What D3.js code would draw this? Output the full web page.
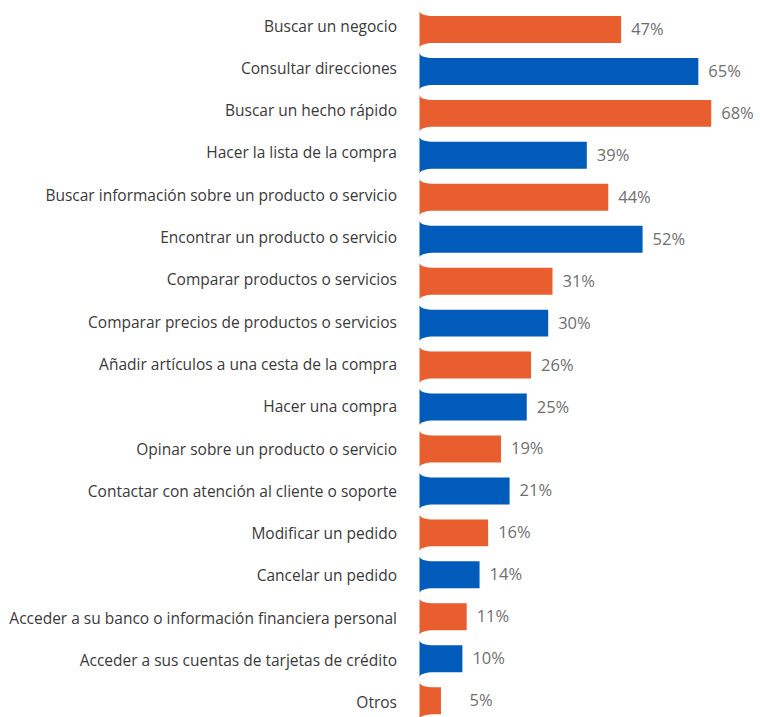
<!DOCTYPE html>
<html>
<head>
<meta charset="utf-8">
<script src="https://cdn.jsdelivr.net/npm/d3@7"></script>
<style>
  html, body { margin: 0; padding: 0; background: #ffffff; }
  svg { display: block; }
</style>
</head>
<body>
<svg id="chart" width="760" height="717"></svg>
<script>
// Activities and the share of respondents for each one (%)
const categories = [
  "Buscar un negocio",
  "Consultar direcciones",
  "Buscar un hecho rápido",
  "Hacer la lista de la compra",
  "Buscar información sobre un producto o servicio",
  "Encontrar un producto o servicio",
  "Comparar productos o servicios",
  "Comparar precios de productos o servicios",
  "Añadir artículos a una cesta de la compra",
  "Hacer una compra",
  "Opinar sobre un producto o servicio",
  "Contactar con atención al cliente o soporte",
  "Modificar un pedido",
  "Cancelar un pedido",
  "Acceder a su banco o información financiera personal",
  "Acceder a sus cuentas de tarjetas de crédito",
  "Otros"
];
const values = [47, 65, 68, 39, 44, 52, 31, 30, 26, 25, 19, 21, 16, 14, 11, 10, 5];
const valueLabels = values.map(v => v + "%");
const palette = ["#e85e2e", "#005bbb"];

const svg = d3.select("#chart");

const x0 = 419.5;
const x = d3.scaleLinear().domain([0, 100]).range([x0, x0 + 429]);

const step = 41.95;
const y = d3.scaleBand()
  .domain(categories)
  .range([8.5, 8.5 + step * categories.length])
  .paddingInner(15 / step)
  .paddingOuter(7.5 / step);

// Category names sit on a slightly wider grid than the bars
const yLabel = d3.scalePoint()
  .domain(categories)
  .range([31.5, 31.5 + 42.3 * (categories.length - 1)]);

const flareW = 15;   // horizontal reach of the flared base
const flareH = 5;    // how far the base opens above/below the bar

// Bar outline: a flat bar whose left end opens out like a trumpet bell
function barPath(cat, v) {
  const top = y(cat), bot = top + y.bandwidth(), end = x(v);
  const p = d3.path();
  p.moveTo(x0, top - flareH);
  p.bezierCurveTo(x0, top - flareH * 0.4, x0 + flareW * 0.4, top, x0 + flareW, top);
  p.lineTo(end, top);
  p.lineTo(end, bot);
  p.lineTo(x0 + flareW, bot);
  p.bezierCurveTo(x0 + flareW * 0.4, bot, x0, bot + flareH * 0.4, x0, bot + flareH);
  p.closePath();
  return p.toString();
}

svg.append("g").selectAll("path")
  .data(categories)
  .join("path")
  .attr("d", (c, i) => barPath(c, values[i]))
  .attr("fill", (c, i) => palette[i % 2]);

// Category names, right-aligned against the bars
svg.append("g").selectAll("text")
  .data(categories)
  .join("text")
  .attr("x", 397)
  .attr("y", c => yLabel(c))
  .attr("text-anchor", "end")
  .attr("font-family", "'Open Sans', sans-serif")
  .attr("font-size", 15.5)
  .attr("fill", "#3a3a3a")
  .text(c => c);

// Value labels after each bar
svg.append("g").selectAll("text")
  .data(categories)
  .join("text")
  .attr("x", (c, i) => Math.max(x(values[i]) + 10, x0 + 50))
  .attr("y", c => y(c) + y.bandwidth() / 2 + 5.5)
  .attr("font-family", "'Open Sans', sans-serif")
  .attr("font-size", 16.5)
  .attr("fill", "#6f6f6f")
  .text((c, i) => valueLabels[i]);
</script>
</body>
</html>
